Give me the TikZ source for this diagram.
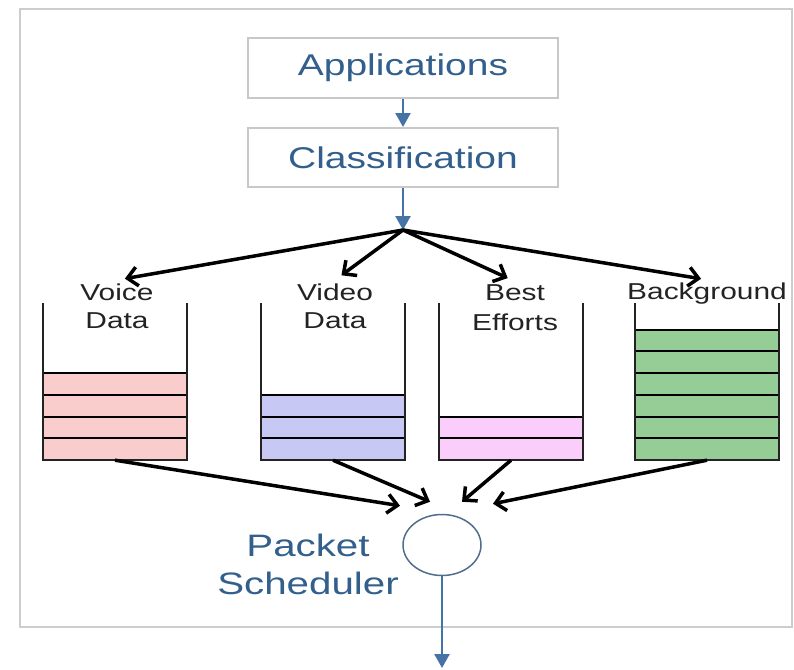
\documentclass[tikz,border=0pt]{standalone}
\usepackage{fontspec}
\setmainfont{Liberation Sans}[FakeStretch=1.3]
\usetikzlibrary{arrows.meta,positioning,calc,shapes.geometric}
\definecolor{framegray}{RGB}{205,205,205}
\definecolor{boxgray}{RGB}{200,200,200}
\definecolor{titleblue}{RGB}{50,95,140}
\definecolor{arrowblue}{RGB}{70,115,165}
\definecolor{labelgray}{RGB}{35,35,35}
\definecolor{voicepink}{RGB}{250,205,205}
\definecolor{videoblue}{RGB}{200,200,245}
\definecolor{bestpink}{RGB}{250,205,250}
\definecolor{bggreen}{RGB}{150,205,150}
\definecolor{schedgray}{RGB}{80,110,140}

\begin{document}
\begin{tikzpicture}[x=1pt, y=-1pt]
    \tikzset{
        box/.style={draw=boxgray, line width=2pt, minimum width=310pt, minimum height=60pt, text=titleblue, font=\fontsize{30}{36}\selectfont},
        qlabel/.style={align=center, text=labelgray, font=\fontsize{23}{28}\selectfont},
        queue/.style={minimum width=144pt, minimum height=157pt, inner sep=0pt},
        wall/.style={draw=labelgray, line width=2pt},
        slot/.style={draw=black, line width=2pt},
        bline/.style={draw=arrowblue, line width=2.5pt, -{Triangle[length=14pt, width=15pt]}},
        kline/.style={draw=black, line width=3.5pt, -{Straight Barb[length=10pt, width=19pt, line width=3.5pt]}}
    }
    \useasboundingbox (0,0) rectangle (794,669);
    % Frame
    \draw[framegray, line width=2.5pt] (20,9) rectangle (792,627);

    % Top boxes
    \node[box] (apps) at (403,68) {Applications};
    \node[box, minimum height=59pt] (class) at (403,157.5) {Classification};
    \coordinate (hub) at (403,230);
    \draw[bline] (apps) -- (class);
    \draw[bline] (class) -- (hub);

    % Queues
    \node[queue] (voice) at (115,381.5) {};
    \node[queue] (video) at (333,381.5) {};
    \node[queue] (best) at (511,381.5) {};
    \node[queue] (bg) at (707,381.5) {};

    \draw[slot, fill=voicepink] (43,460) rectangle (187,373)
        (43,438.25) -- (187,438.25) (43,416.5) -- (187,416.5) (43,394.75) -- (187,394.75);
    \draw[slot, fill=videoblue] (261,460) rectangle (405,394.75)
        (261,438.25) -- (405,438.25) (261,416.5) -- (405,416.5);
    \draw[slot, fill=bestpink] (439,460) rectangle (583,416.5)
        (439,438.25) -- (583,438.25);
    \draw[slot, fill=bggreen] (635,460) rectangle (779,329.5)
        (635,438.25) -- (779,438.25) (635,416.5) -- (779,416.5) (635,394.75) -- (779,394.75)
        (635,373) -- (779,373) (635,351.25) -- (779,351.25);

    \draw[wall] (voice.north west) |- (voice.south) -| (voice.north east);
    \draw[wall] (video.north west) |- (video.south) -| (video.north east);
    \draw[wall] (best.north west) |- (best.south) -| (best.north east);
    \draw[wall] (bg.north west) |- (bg.south) -| (bg.north east);

    \node[qlabel] (voicelbl) at (117,306) {Voice\\Data};
    \node[qlabel] (videolbl) at (335,306) {Video\\Data};
    \node[qlabel, font=\fontsize{23}{30}\selectfont] (bestlbl) at (515,308) {Best\\Efforts};
    \node[qlabel] (bglbl) at (707,294) {Background};

    % Classification to queues
    \draw[kline, shorten >=8pt] (hub) -- (voicelbl.north);
    \draw[kline, shorten >=8pt] (hub) -- (videolbl.north);
    \draw[kline, shorten >=8pt] (hub) -- (bestlbl.north);
    \draw[kline, shorten >=6pt] (hub) -- (bglbl.north);

    % Scheduler
    \node[draw=schedgray, ellipse, line width=1.5pt, minimum width=78pt, minimum height=61pt] (sched) at (442,545) {};
    \node[align=center, text=titleblue, font=\fontsize{31}{38}\selectfont] (schedlbl) at (308,564) {Packet\\Scheduler};
    \coordinate (out) at (442,668);

    \draw[kline] (voice.south) -- ($(sched.north)+(-42,-8)$);
    \draw[kline] (video.south) -- ($(sched.north)+(-12,-12)$);
    \draw[kline] (best.south) -- ($(sched.north)+(20,-12)$);
    \draw[kline] (bg.south) -- ($(sched.north)+(51,-10)$);
    \draw[bline] (sched) -- (out);
\end{tikzpicture}
\end{document}
